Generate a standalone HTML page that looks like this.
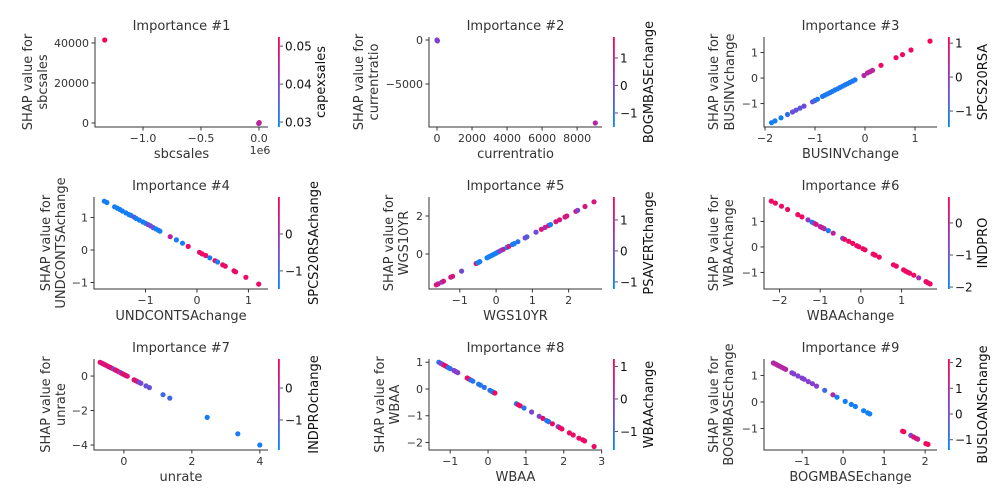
<!DOCTYPE html>
<html><head><meta charset="utf-8">
<style>
html,body{margin:0;padding:0;background:#fff;}
svg{display:block;font-family:"DejaVu Sans","Liberation Sans",sans-serif;}
</style></head>
<body>
<svg id="chart" width="1008" height="504" viewBox="0 0 1008 504" xmlns="http://www.w3.org/2000/svg"></svg>
<script>
// ---------- data ----------
const p1X = [-1.33e6, 0, 2000, -2000];
const p1Y = [41500, 0, 200, -200];
const p1C = [0.052, 0.046, 0.048, 0.045];

const p2X = [0, 10, 20, 9040];
const p2Y = [0, -50, -100, -9430];
const p2C = [0.1, 0.05, 0.0, 0.7];

const p3X = [-1.87,-1.8,-1.68,-1.55,-1.45,-1.38,-1.3,-1.22,-1.05,-1.0,-0.95,-0.85,-0.8,-0.75,-0.7,-0.65,-0.6,-0.55,-0.5,-0.45,-0.4,-0.35,-0.3,-0.25,-0.2,-0.02,0.05,0.1,0.15,0.32,0.62,0.75,0.92,1.3];
const p3Y = [-1.75,-1.68,-1.56,-1.43,-1.33,-1.26,-1.18,-1.1,-0.93,-0.88,-0.83,-0.72,-0.67,-0.62,-0.57,-0.52,-0.47,-0.42,-0.37,-0.32,-0.27,-0.22,-0.17,-0.12,-0.07,0.1,0.2,0.25,0.3,0.5,0.8,0.92,1.1,1.45];
const p3C = [-1.3,-1.3,-1.3,-1.0,-0.5,-0.5,-0.6,-0.4,-0.5,-0.9,-1.2,-1.2,-1.2,-1.2,-1.2,-1.2,-1.2,-1.2,-1.2,-1.2,-1.2,-1.2,-1.2,-1.2,-1.2,0.3,0.3,0.4,0.4,1.0,1.0,1.0,1.0,1.1];

const p4X = [-1.8,-1.75,-1.6,-1.55,-1.5,-1.45,-1.38,-1.32,-1.28,-1.22,-1.18,-1.12,-1.05,-1.0,-0.95,-0.9,-0.85,-0.8,-0.75,-0.72,-0.52,-0.4,-0.28,-0.17,0.05,0.1,0.17,0.25,0.35,0.4,0.5,0.55,0.72,0.75,0.95,1.2];
const p4Y = [1.5,1.46,1.33,1.29,1.25,1.2,1.14,1.09,1.06,1.01,0.97,0.92,0.86,0.82,0.78,0.74,0.69,0.65,0.61,0.58,0.41,0.31,0.21,0.11,-0.07,-0.12,-0.17,-0.24,-0.33,-0.37,-0.46,-0.5,-0.64,-0.67,-0.84,-1.05];
const p4C = [-1.3,-1.3,-1.3,-1.3,-1.3,-1.3,-1.3,-1.3,-1.3,-0.6,-1.3,-1.3,-1.3,-1.3,-0.5,-0.5,-0.5,-1.3,-1.3,-1.3,0.3,-1.3,-1.3,0.8,0.8,0.8,0.8,-1.3,0.8,-1.3,0.8,0.8,0.8,0.8,0.8,0.8];

const p5X = [-1.65,-1.6,-1.5,-1.45,-1.25,-1.2,-0.95,-0.55,-0.5,-0.45,-0.25,-0.2,-0.15,-0.1,-0.05,0,0.05,0.1,0.15,0.2,0.3,0.35,0.45,0.5,0.6,0.8,0.85,1.1,1.25,1.35,1.45,1.5,1.65,1.75,1.9,1.95,2.2,2.25,2.45,2.7];
const p5Y = [-1.62,-1.57,-1.48,-1.43,-1.22,-1.17,-0.9,-0.5,-0.45,-0.4,-0.2,-0.15,-0.1,-0.05,0,0.05,0.1,0.15,0.2,0.25,0.35,0.4,0.5,0.55,0.65,0.85,0.9,1.15,1.3,1.4,1.5,1.55,1.7,1.8,1.95,2.0,2.25,2.3,2.5,2.75];
const p5C = [1.2,1.2,0.2,1.2,1.2,1.2,0.0,1.2,-1.0,-1.0,-1.0,-1.0,-1.0,-1.0,-1.0,-1.0,-1.0,0.2,0.2,0.8,-1.0,1.2,-1.0,-1.0,-0.8,0.0,-0.3,0.0,1.2,0.8,1.2,-1.0,1.2,1.2,1.2,1.2,1.2,0.2,1.2,1.2];

const p6X = [-2.2,-2.1,-1.95,-1.8,-1.55,-1.45,-1.3,-1.2,-1.15,-1.1,-1.0,-0.95,-0.9,-0.8,-0.68,-0.45,-0.4,-0.3,-0.2,-0.1,-0.05,0.05,0.1,0.3,0.35,0.45,0.8,0.87,1.05,1.1,1.15,1.2,1.3,1.42,1.6,1.65,1.7];
const p6Y = [1.8,1.72,1.6,1.47,1.27,1.18,1.06,0.97,0.93,0.89,0.8,0.76,0.72,0.64,0.54,0.34,0.3,0.22,0.14,0.05,0.01,-0.07,-0.11,-0.28,-0.32,-0.4,-0.7,-0.75,-0.9,-0.95,-0.99,-1.03,-1.11,-1.21,-1.36,-1.41,-1.45];
const p6C = [0.6,0.6,0.6,0.6,0.6,0.6,-0.5,-2.0,-0.6,0.3,-0.3,0.2,-0.2,-1.8,0.0,-0.8,0.6,0.6,0.6,0.6,0.6,0.6,0.6,0.6,0.6,0.6,0.6,0.6,0.6,0.6,0.6,0.6,0.6,-0.3,0.6,0.6,0.6];

const p7X = [-0.7,-0.65,-0.6,-0.55,-0.5,-0.45,-0.4,-0.35,-0.3,-0.25,-0.2,-0.15,-0.1,-0.05,0,0.05,0.1,0.3,0.35,0.4,0.45,0.5,0.65,0.75,1.15,1.35,2.45,3.35,4.0];
const p7Y = [0.8,0.75,0.7,0.65,0.6,0.55,0.5,0.45,0.4,0.35,0.3,0.25,0.2,0.14,0.09,0.04,-0.01,-0.22,-0.27,-0.32,-0.37,-0.42,-0.57,-0.67,-1.08,-1.28,-2.4,-3.35,-4.0];
const p7C = [0.5,0.5,0.5,0.5,0.5,0.5,0.5,0.5,-0.8,0.5,0.5,0.5,-0.5,0.5,0.5,0.5,0.5,0.5,0.5,0.5,-0.7,-0.7,-0.9,-0.9,-1.3,-1.3,-1.7,-1.7,-1.7];

const p8X = [-1.3,-1.25,-1.2,-1.15,-1.1,-1.05,-1.0,-0.9,-0.85,-0.8,-0.55,-0.5,-0.45,-0.4,-0.25,-0.2,-0.1,0.05,0.1,0.15,0.18,0.75,0.8,0.85,0.95,1.15,1.35,1.45,1.55,1.6,1.7,1.85,1.9,1.95,2.15,2.25,2.4,2.5,2.55,2.8];
const p8Y = [1.0,0.96,0.92,0.88,0.84,0.8,0.76,0.69,0.65,0.61,0.41,0.37,0.33,0.29,0.18,0.14,0.06,-0.05,-0.09,-0.13,-0.15,-0.55,-0.59,-0.63,-0.71,-0.86,-1.02,-1.1,-1.18,-1.22,-1.3,-1.41,-1.45,-1.49,-1.64,-1.72,-1.84,-1.9,-1.94,-2.15];
const p8C = [-1.3,-0.3,-0.3,1.0,1.0,-1.2,-1.2,-0.2,-0.2,-0.2,1.0,1.0,-1.2,-1.2,-1.2,-1.2,-1.2,-1.2,-1.2,-1.2,1.0,-1.2,1.0,1.0,-1.2,-0.3,-0.3,1.0,-1.2,-1.2,1.0,-0.3,1.0,1.0,1.0,1.0,1.0,1.0,1.0,1.0];

const p9X = [-1.7,-1.65,-1.6,-1.55,-1.5,-1.45,-1.4,-1.25,-1.2,-1.1,-1.0,-0.95,-0.85,-0.75,-0.65,-0.45,-0.25,-0.15,0.05,0.2,0.3,0.5,0.6,0.65,1.45,1.48,1.65,1.72,1.78,1.82,2.02,2.07];
const p9Y = [1.47,1.43,1.39,1.35,1.31,1.27,1.23,1.1,1.06,0.98,0.9,0.86,0.77,0.69,0.6,0.44,0.27,0.18,0.02,-0.09,-0.17,-0.33,-0.41,-0.45,-1.1,-1.12,-1.26,-1.32,-1.37,-1.4,-1.57,-1.6];
const p9C = [1.0,1.0,1.0,1.0,1.0,1.0,1.0,0.3,0.3,0.3,0.3,0.3,0.3,0.3,0.3,-0.6,1.0,-1.2,-1.2,-1.2,-1.2,-1.2,-1.2,-1.2,2.0,2.0,0.2,1.5,2.0,1.2,2.0,2.0];

// tick labels
const p1XT = [-1.0,-0.5,0.0], p1YT = [0,20000,40000], p1CT = [0.03,0.04,0.05];
const p2XT = [0,2000,4000,6000,8000], p2YT = [-5000,0], p2CT = [-1,0,1];
const p3XT = [-2,-1,0,1], p3YT = [-1,0,1], p3CT = [-1,0,1];
const p4XT = [-1,0,1], p4YT = [-1,0,1], p4CT = [-1,0];
const p5XT = [-1,0,1,2], p5YT = [0,2], p5CT = [-1,0,1];
const p6XT = [-2,-1,0,1], p6YT = [-1,0,1], p6CT = [-2,-1,0];
const p7XT = [0,2,4], p7YT = [-4,-2,0], p7CT = [-1,0];
const p8XT = [-1,0,1,2,3], p8YT = [-2,-1,0,1], p8CT = [-1,0,1];
const p9XT = [-1,0,1,2], p9YT = [-1,0,1], p9CT = [-1,0,1,2];

// ---------- layout ----------
const panels = [
 {n:1,feat:"sbcsales",inter:"capexsales",X:p1X,Y:p1Y,C:p1C,XT:p1XT,YT:p1YT,CT:p1CT,box:[95,37,268,127],xd:[-1.414,0.078],yd:[43000,-2000],cd:[0.0524,0.0287],xs:1e6,yl:[27,42],cx:278,cl:320,fmtx:v=>v.toFixed(1),fmtc:v=>v.toFixed(2)},
 {n:2,feat:"currentratio",inter:"BOGMBASEchange",X:p2X,Y:p2Y,C:p2C,XT:p2XT,YT:p2YT,CT:p2CT,box:[429,37,602,127],xd:[-457,9420],yd:[341,-9886],cd:[1.76,-1.51],yl:[358,373],cx:613,cl:648},
 {n:3,feat:"BUSINVchange",inter:"SPCS20RSA",X:p3X,Y:p3Y,C:p3C,XT:p3XT,YT:p3YT,CT:p3CT,box:[764,37,937,127],xd:[-2.02,1.44],yd:[1.61,-1.92],cd:[1.18,-1.47],yl:[713,729],cx:948,cl:982},
 {n:4,feat:"UNDCONTSAchange",inter:"SPCS20RSAchange",X:p4X,Y:p4Y,C:p4C,XT:p4XT,YT:p4YT,CT:p4CT,box:[94,197,268,289],xd:[-2.0,1.38],yd:[1.63,-1.2],cd:[1.0,-1.49],yl:[45,60],cx:278,cl:313},
 {n:5,feat:"WGS10YR",inter:"PSAVERTchange",X:p5X,Y:p5Y,C:p5C,XT:p5XT,YT:p5YT,CT:p5CT,box:[429,197,602,289],xd:[-1.85,2.92],yd:[3.0,-1.84],cd:[1.74,-1.23],yl:[388,403],cx:613,cl:648},
 {n:6,feat:"WBAAchange",inter:"INDPRO",X:p6X,Y:p6Y,C:p6C,XT:p6XT,YT:p6YT,CT:p6CT,box:[764,197,937,289],xd:[-2.38,1.87],yd:[1.96,-1.65],cd:[0.81,-2.06],yl:[713,728],cx:948,cl:982},
 {n:7,feat:"unrate",inter:"INDPROchange",X:p7X,Y:p7Y,C:p7C,XT:p7XT,YT:p7YT,CT:p7CT,box:[94,359,268,450],xd:[-0.88,4.24],yd:[0.99,-4.29],cd:[0.91,-1.94],yl:[45,60],cx:278,cl:313},
 {n:8,feat:"WBAA",inter:"WBAAchange",X:p8X,Y:p8Y,C:p8C,XT:p8XT,YT:p8YT,CT:p8CT,box:[429,359,602,450],xd:[-1.56,3.01],yd:[1.12,-2.28],cd:[1.23,-1.57],yl:[379,394],cx:613,cl:648},
 {n:9,feat:"BOGMBASEchange",inter:"BUSLOANSchange",X:p9X,Y:p9Y,C:p9C,XT:p9XT,YT:p9YT,CT:p9CT,box:[764,359,937,450],xd:[-1.93,2.29],yd:[1.62,-1.81],cd:[2.14,-1.4],yl:[713,728],cx:948,cl:982}
];

const NS="http://www.w3.org/2000/svg";
const svg=document.getElementById('chart');
function mk(tag,attrs,parent){const e=document.createElementNS(NS,tag);for(const k in attrs)e.setAttribute(k,attrs[k]);(parent||svg).appendChild(e);return e;}
const stops=[[0,138,250],[138,60,205],[255,0,82]];
function cmap(t){t=Math.max(0,Math.min(1,t));let a,b,u;if(t<0.5){a=stops[0];b=stops[1];u=t*2;}else{a=stops[1];b=stops[2];u=(t-0.5)*2;}
 return `rgb(${Math.round(a[0]+(b[0]-a[0])*u)},${Math.round(a[1]+(b[1]-a[1])*u)},${Math.round(a[2]+(b[2]-a[2])*u)})`;}
function fmtDef(v){return (v<0?"\u2212":"")+Math.abs(v);}
function fmtNeg(s){return s.replace("-","\u2212");}

panels.forEach(p=>{
 const [L,T,R,B]=p.box;
 const g=mk('g',{});
 
 
 const sx=v=>L+(v/(p.xs||1)-p.xd[0])/(p.xd[1]-p.xd[0])*(R-L);
 const sy=v=>T+(v-p.yd[0])/(p.yd[1]-p.yd[0])*(B-T);
 const sc=v=>T+(v-p.cd[0])/(p.cd[1]-p.cd[0])*(B-T);
 const ct=v=>(v-p.cd[1])/(p.cd[0]-p.cd[1]);
 const t=mk('text',{x:(L+R)/2,y:T-7,'text-anchor':'middle','font-size':13,fill:'#333'},g);
 t.textContent='Importance #'+p.n;
 
 
 const pg=mk('g',{},g);
 
 
 p.X.forEach((x,i)=>{
  const c=mk('circle',{cx:sx(x).toFixed(1),cy:sy(p.Y[i]).toFixed(1),r:2.6,fill:cmap(ct(p.C[i]))},pg);
  
  
 });
 const ax=mk('path',{d:`M${L},${T}V${B}H${R}`,stroke:'#333',fill:'none','stroke-width':1},g);
 
 
 p.XT.forEach(v=>{
  const X=sx(v*(p.xs||1));
  mk('line',{x1:X,y1:B,x2:X,y2:B+3.5,stroke:'#333'},g);
  const tl=mk('text',{x:X,y:B+15,'text-anchor':'middle','font-size':11,fill:'#333'},g);
  tl.textContent=p.fmtx?fmtNeg(p.fmtx(v)):fmtDef(v);
  
  
 });
 p.YT.forEach(v=>{
  const Y=sy(v);
  mk('line',{x1:L,y1:Y,x2:L-3.5,y2:Y,stroke:'#333'},g);
  const tl=mk('text',{x:L-6,y:Y+4,'text-anchor':'end','font-size':11,fill:'#333'},g);
  tl.textContent=fmtDef(v);
  
  
 });
 if(p.xs){const o=mk('text',{x:R-8,y:B+27,'text-anchor':'middle','font-size':11,fill:'#333'},g);o.textContent='1e6';
  
  }
 const xl=mk('text',{x:(L+R)/2,y:B+31,'text-anchor':'middle','font-size':13,fill:'#333'},g);
 xl.textContent=p.feat;
 
 
 const cy=(T+B)/2;
 const yl1=mk('text',{x:p.yl[0]+5,y:cy,'text-anchor':'middle','font-size':13,fill:'#333',transform:`rotate(-90 ${p.yl[0]+5} ${cy})`},g);
 yl1.textContent='SHAP value for';
 
 
 const yl2=mk('text',{x:p.yl[1]+5,y:cy,'text-anchor':'middle','font-size':13,fill:'#333',transform:`rotate(-90 ${p.yl[1]+5} ${cy})`},g);
 yl2.textContent=p.feat;
 
 
 const gid='grad'+p.n;
 const defs=mk('defs',{},g);
 const lg=mk('linearGradient',{id:gid,x1:0,y1:1,x2:0,y2:0},defs);
 for(let k=0;k<=10;k++)mk('stop',{offset:k/10,'stop-color':cmap(k/10)},lg);
 const cb=mk('rect',{x:p.cx,y:T,width:1.8,height:B-T,fill:`url(#${gid})`},g);
 
 
 p.CT.forEach(v=>{
  const Y=sc(v);
  mk('line',{x1:p.cx+1.8,y1:Y,x2:p.cx+5,y2:Y,stroke:'#555'},g);
  const tl=mk('text',{x:p.cx+7,y:Y+4.5,'font-size':12,fill:'#111'},g);
  tl.textContent=p.fmtc?p.fmtc(v):fmtDef(v);
  
  
 });
 const cl=mk('text',{x:p.cl+5,y:cy,'text-anchor':'middle','font-size':13,fill:'#111',transform:`rotate(-90 ${p.cl+5} ${cy})`},g);
 cl.textContent=p.inter;
 
 
});
</script>
</body></html>
